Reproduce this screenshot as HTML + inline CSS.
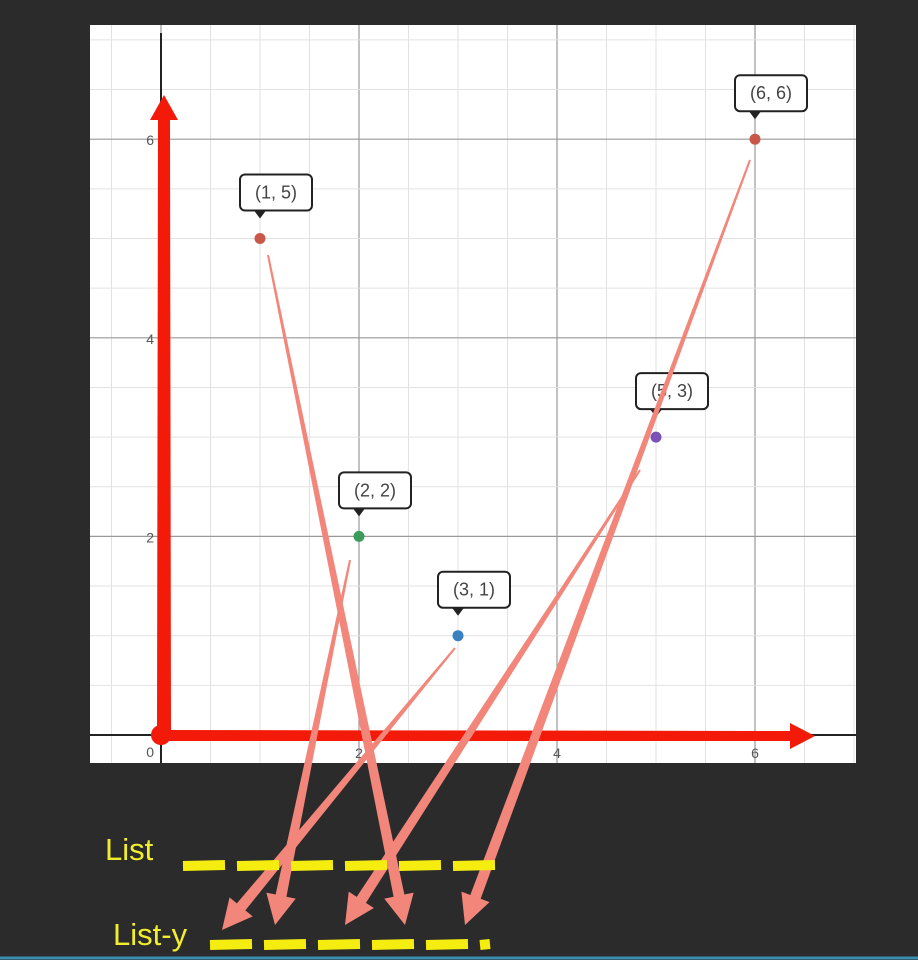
<!DOCTYPE html>
<html><head><meta charset="utf-8"><style>
html,body{margin:0;padding:0;background:#2b2b2b;}
svg{display:block;}
</style></head><body>
<svg id="c" width="918" height="960" xmlns="http://www.w3.org/2000/svg">
<rect x="0" y="0" width="918" height="960" fill="#2b2b2b"/>
<rect x="90" y="25" width="766" height="738" fill="#ffffff"/>
<g id="grid"></g><g id="axes"></g><g id="pts"></g><g id="arrows"></g>
<text x="105" y="860" font-family="Liberation Sans, sans-serif" font-size="31" fill="#f2ee2e">List</text>
<text x="113" y="945" font-family="Liberation Sans, sans-serif" font-size="31" fill="#f2ee2e">List-y</text>
<g id="dashes"></g>
<line x1="0" y1="958" x2="918" y2="958" stroke="#3a8fb0" stroke-width="3"/>
</svg>
<script>
const xs=[1,2,3,5,6];
const ys=[5,2,1,3,6];
const pointColors=["#c9584a","#3a9b5a","#3a7fc0","#7a52b8","#c9584a"];
const xTicks=[2,4,6];
const yTicks=[2,4,6];
const NS="http://www.w3.org/2000/svg";
const X=v=>161+v*99, Y=v=>735-v*99.3;
function mk(t,a,p){const e=document.createElementNS(NS,t);for(const k in a)e.setAttribute(k,a[k]);p.appendChild(e);return e;}
const g=document.getElementById('grid');
for(let v=-1;v<=7;v+=0.5){const x=X(v);if(x<90||x>856)continue;const l=mk('line',{x1:x,y1:25,x2:x,y2:763,stroke:v%2===0?'#999':'#e2e2e2','stroke-width':v%2===0?1.2:1},g);

}
for(let v=-0.5;v<=7.5;v+=0.5){const y=Y(v);if(y<25||y>763)continue;const l=mk('line',{x1:90,y1:y,x2:856,y2:y,stroke:v%2===0?'#999':'#e2e2e2','stroke-width':v%2===0?1.2:1},g);

}
const a=document.getElementById('axes');
mk('line',{x1:161,y1:33,x2:161,y2:763,stroke:'#222','stroke-width':2},a);
mk('line',{x1:90,y1:735,x2:856,y2:735,stroke:'#222','stroke-width':2},a);
xTicks.forEach(v=>{const t=mk('text',{x:X(v),y:758,'text-anchor':'middle','font-family':'Liberation Sans, sans-serif','font-size':14,fill:'#555'},a);t.textContent=v;

});
yTicks.forEach(v=>{const t=mk('text',{x:154,y:Y(v)+6,'text-anchor':'end','font-family':'Liberation Sans, sans-serif','font-size':14,fill:'#555'},a);t.textContent=v;

});
const z=mk('text',{x:154,y:757,'text-anchor':'end','font-family':'Liberation Sans, sans-serif','font-size':14,fill:'#555'},a);z.textContent='0';
mk('polygon',{points:'161,730 790,731 790,723 815,736 790,749 790,741 161,741',fill:'#f31a0a'},a);
mk('polygon',{points:'157,735 158,120 150,120 164,95 178,120 170,120 171,735',fill:'#f31a0a'},a);
mk('circle',{cx:161,cy:735,r:10,fill:'#f31a0a'},a);
const p=document.getElementById('pts');
xs.forEach((v,i)=>{const cx=X(v),cy=Y(ys[i]);
const c=mk('circle',{cx:cx,cy:cy,r:5.5,fill:pointColors[i]},p);


const b=mk('rect',{x:cx-20,y:cy-64,width:72,height:36,rx:5,fill:'#fff',stroke:'#222','stroke-width':2},p);


mk('polygon',{points:`${cx-6},${cy-28} ${cx+6},${cy-28} ${cx},${cy-20}`,fill:'#222'},p);
const t=mk('text',{x:cx+16,y:cy-40,'text-anchor':'middle','font-family':'Liberation Sans, sans-serif','font-size':18,fill:'#444'},p);
t.textContent=`(${v}, ${ys[i]})`;

});
const targets=[[405,925],[275,925],[222,930],[345,925],[465,925]];
const starts=[[268,255],[350,560],[455,648],[640,470],[750,160]];
const ar=document.getElementById('arrows');
starts.forEach((s,i)=>{const [x1,y1]=s,[x2,y2]=targets[i];const dx=x2-x1,dy=y2-y1,L=Math.hypot(dx,dy),ux=dx/L,uy=dy/L,nx=-uy,ny=ux;
const bx=x2-ux*30,by=y2-uy*30;
mk('polygon',{points:`${x1+nx},${y1+ny} ${bx+nx*5.5},${by+ny*5.5} ${bx+nx*15},${by+ny*15} ${x2},${y2} ${bx-nx*15},${by-ny*15} ${bx-nx*5.5},${by-ny*5.5} ${x1-nx},${y1-ny}`,fill:'#f3867a'},ar);});
const d=document.getElementById('dashes');
[[183,866,505],[210,945,490]].forEach(r=>{for(let x=r[0];x<r[2];x+=54){mk('line',{x1:x,y1:r[1],x2:Math.min(x+42,r[2]),y2:r[1]-1,stroke:'#f5ec10','stroke-width':10},d);}});
</script>
</body></html>
